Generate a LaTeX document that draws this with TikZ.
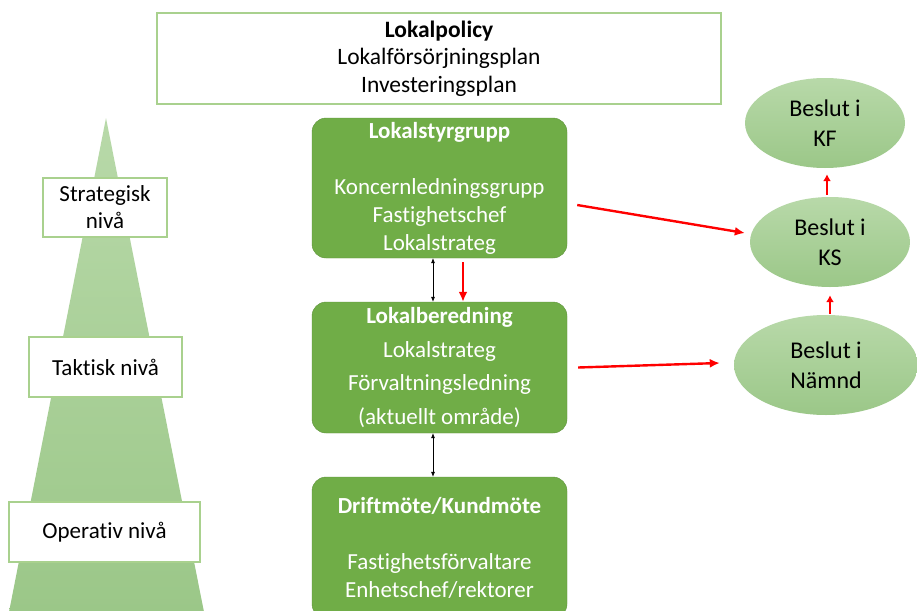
\documentclass[tikz,border=0pt]{standalone}
\usepackage{fontspec}
\setmainfont{Carlito}[Ligatures=NoCommon]
\usetikzlibrary{shapes.geometric,arrows.meta}

\definecolor{boxgreen}{HTML}{70AD47}
\definecolor{paleline}{HTML}{A9D18E}
\definecolor{palehi}{HTML}{B8D9A9}
\definecolor{palelo}{HTML}{9BC788}

\tikzset{
  planbox/.style = {draw=paleline, line width=1.4pt, fill=white, align=center,
                    font=\fontsize{23.5}{27.5}\selectfont},
  levelbox/.style = {planbox, font=\fontsize{23}{27}\selectfont},
  groupbox/.style = {draw=boxgreen!85!black, fill=boxgreen, rounded corners=14pt,
                     minimum width=255pt, text=white, align=center},
  decision/.style = {ellipse, top color=palehi, bottom color=palelo, draw=none,
                     minimum width=160pt, minimum height=90pt, align=center,
                     font=\fontsize{24}{30}\selectfont},
  twoway/.style = {{Latex[length=5pt,width=4pt]}-{Latex[length=5pt,width=4pt]}, line width=0.6pt},
  redarrow/.style = {-{Latex[length=10pt,width=9pt]}, red, line width=2.4pt},
  smallred/.style = {-{Latex[length=7pt,width=8pt]}, red, line width=2.4pt}
}

\begin{document}
\begin{tikzpicture}[x=1pt, y=-1pt]
\clip (0,0) rectangle (917,610);
\fill[white] (0,0) rectangle (917,610);

% pyramid and levels
\shade[top color=palehi, bottom color=palelo] (106,118) -- (204,612) -- (9,612) -- cycle;
\node[levelbox, minimum width=124pt, minimum height=59pt] (strat) at (105,207.5) {Strategisk\\niv\aa};
\node[levelbox, minimum width=153pt, minimum height=60pt] (takt) at (105.5,367) {Taktisk niv\aa};
\node[levelbox, minimum width=191pt, minimum height=60pt] (oper) at (104.5,532) {Operativ niv\aa};

% policy box
\node[planbox, minimum width=564pt, minimum height=91pt] (policy) at (439,58.5)
  {\textbf{Lokalpolicy}\\Lokalf\"ors\"orjningsplan\\Investeringsplan};

% groups
\node[groupbox, minimum height=140pt, font=\fontsize{23}{28}\selectfont] (styr) at (439.5,188)
  {\textbf{Lokalstyrgrupp}\\[28pt]Koncernledningsgrupp\\Fastighetschef\\Lokalstrateg};
\node[groupbox, minimum height=131pt, font=\fontsize{23}{33.5}\selectfont] (bered) at (439.5,367.5)
  {\textbf{Lokalberedning}\\Lokalstrateg\\F\"orvaltningsledning\\(aktuellt omr\aa de)};
\node[groupbox, minimum height=141pt, font=\fontsize{23}{28}\selectfont] (drift) at (439.5,547.5)
  {\textbf{Driftm\"ote/Kundm\"ote}\\[28pt]Fastighetsf\"orvaltare\\Enhetschef/rektorer};

% decisions
\node[decision] (kf) at (825,123) {Beslut i\\KF};
\node[decision] (ks) at (830,242) {Beslut i\\KS};
\node[decision, minimum width=184pt, minimum height=100pt] (namnd) at (826,365) {Beslut i\\N\"amnd};

% connectors
\draw[twoway] ([xshift=-6.5pt]styr.south) -- ([xshift=-6.5pt]bered.north);
\draw[twoway] ([xshift=-6.5pt]bered.south) -- ([xshift=-6.5pt]drift.north);
\draw[redarrow, shorten <=4pt] ([xshift=23.5pt]styr.south) -- ([xshift=23.5pt]bered.north);
\draw[redarrow] ([shift={(10,17)}]styr.east) -- ([shift={(-5,-9)}]ks.west);
\draw[redarrow] ([shift={(11,0)}]bered.east) -- ([shift={(-14,-2)}]namnd.west);
\draw[smallred, shorten <=2pt, shorten >=6pt] ([xshift=-3pt]ks.north) -- ([xshift=2pt]kf.south);
\draw[smallred, shorten <=1pt, shorten >=8pt] ([xshift=4pt]namnd.north) -- (ks.south);
\end{tikzpicture}
\end{document}
